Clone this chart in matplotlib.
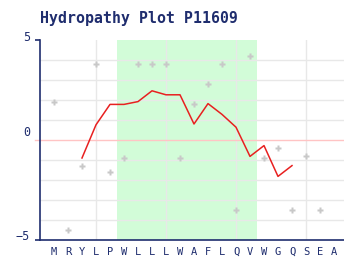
import matplotlib.pyplot as plt
import matplotlib.transforms as mtransforms

# residue sequence shown on the x axis
residues = ["M", "R", "Y", "L", "P", "W", "L", "L", "L", "W", "A",
            "F", "L", "Q", "V", "W", "G", "Q", "S", "E", "A"]
# per-residue hydropathy (gray markers), first 20 residues
point_values = [1.9, -4.5, -1.3, 3.8, -1.6, -0.9, 3.8, 3.8, 3.8, -0.9,
                1.8, 2.8, 3.8, -3.5, 4.2, -0.9, -0.4, -3.5, -0.8, -3.5]
# smoothed curve, drawn from residue 3 to residue 18
curve_start = 3
curve_values = [-0.9, 0.76, 1.78, 1.78, 1.92, 2.46, 2.26, 2.26, 0.8,
                1.82, 1.28, 0.64, -0.82, -0.28, -1.82, -1.28]
# highlighted region (residue range)
region = (6, 15)

NAVY = "#1f2d6e"

fig = plt.figure(figsize=(3.44, 2.60), dpi=100)
ax = fig.add_axes([40 / 344, 20 / 260, 304 / 344, 200 / 260])

x_res = list(range(1, len(residues) + 1))
ax.set_xlim(0, 304 / 14)
ax.set_ylim(-5, 5)

ax.axvspan(region[0] - 0.5, region[1] + 0.5, color="#d2fcd8", lw=0, zorder=0)

for y in range(-4, 5):
    if y != 0:
        ax.axhline(y, color="#e8e8e8", lw=1, zorder=1)
for x in [4, 9, 14, 19]:
    ax.axvline(x, color="#e8e8e8", lw=1, zorder=1)
ax.axhline(0, color="#ffc4c4", lw=1, zorder=1)
ax.plot([-5 / 14, 0], [0, 0], color="#ffc4c4", lw=1, clip_on=False)

ax.plot(x_res[:len(point_values)], point_values, ls="none", marker="P",
        ms=4.5, color="#c8c8c8", mec="none", zorder=3)

curve_x = list(range(curve_start, curve_start + len(curve_values)))
ax.plot(curve_x, curve_values, color="#e82020", lw=1.1, zorder=4)

for side in ["top", "right"]:
    ax.spines[side].set_visible(False)
for side in ["left", "bottom"]:
    ax.spines[side].set_color(NAVY)
    ax.spines[side].set_linewidth(1.2)

ax.set_xticks(x_res)
ax.set_xticklabels(residues, family="DejaVu Sans Mono", fontsize=7.5,
                   color=NAVY)
ax.tick_params(axis="x", length=0, pad=5)

ax.set_yticks([5, -5])
ax.set_yticklabels([])
ax.tick_params(axis="y", length=3.6, width=1.2, color=NAVY)
for val, lab, dy in [(5, "5", 2.5), (0, "0", 7), (-5, "\u22125", 3)]:
    offset = mtransforms.offset_copy(ax.transData, fig=fig, x=-10, y=dy,
                                     units="dots")
    ax.text(0, val, lab, transform=offset, ha="right", va="center",
            family="DejaVu Sans Mono", fontsize=8.5, color=NAVY)

fig.text(40 / 344, 1 - 18 / 260, "Hydropathy Plot P11609", ha="left",
         va="center", family="DejaVu Sans Mono", fontweight="bold",
         fontsize=10.7, color=NAVY)

fig.savefig("out.png", dpi=100)
